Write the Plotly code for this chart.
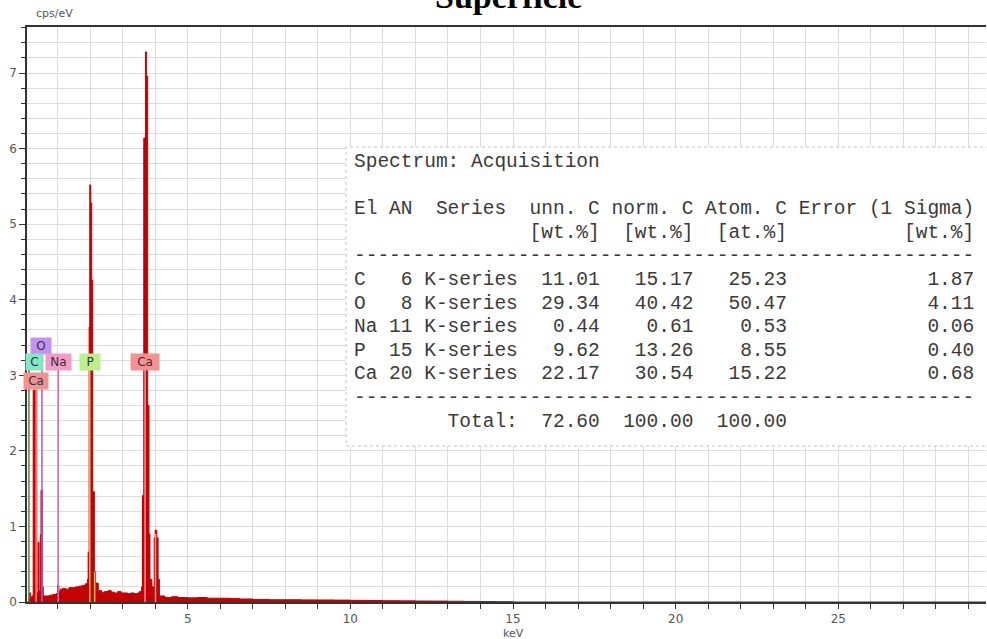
import plotly.graph_objects as go

# ---- EDS spectrum (energy in keV, intensity in cps/eV), step-wise channels ----
energy_kev = [
    0.06, 0.11, 0.13, 0.17, 0.21, 0.25, 0.36, 0.40, 0.43, 0.47, 0.49, 0.53,
    0.56, 0.65, 0.75, 0.85, 0.95, 1.00, 1.04, 1.08, 1.15, 1.25, 1.35, 1.45,
    1.55, 1.65, 1.75, 1.85, 1.92, 1.94, 1.97, 1.99, 2.02, 2.05, 2.08, 2.13,
    2.17, 2.25, 2.35, 2.45, 2.55, 2.65, 2.75, 2.85, 2.95, 3.05, 3.15, 3.25,
    3.35, 3.45, 3.52, 3.58, 3.61, 3.65, 3.70, 3.73, 3.77, 3.81, 3.84, 3.90,
    3.97, 4.00, 4.05, 4.09, 4.13, 4.30, 4.50, 4.70, 5.00, 5.30, 5.60, 6.00,
    6.30, 6.60, 7.00, 7.50, 8.00, 8.50, 9.00, 9.50, 10.00, 10.50, 11.00,
    11.50, 12.00, 12.50, 13.00, 13.50, 14.00, 14.50, 15.00, 29.60,
]
cps_per_ev = [
    0.00, 0.05, 0.12, 0.06, 0.08, 2.80, 0.12, 0.79, 0.15, 0.89, 1.48, 0.20,
    0.08, 0.08, 0.09, 0.10, 0.11, 0.22, 0.14, 0.17, 0.18, 0.17, 0.19, 0.19,
    0.20, 0.21, 0.22, 0.24, 0.30, 0.66, 3.64, 5.52, 5.28, 4.26, 1.46, 0.40,
    0.25, 0.15, 0.13, 0.14, 0.15, 0.13, 0.12, 0.14, 0.12, 0.12, 0.11, 0.12,
    0.11, 0.12, 0.14, 0.20, 1.41, 6.14, 7.28, 6.96, 2.60, 0.90, 0.30, 0.20,
    0.85, 0.95, 0.85, 0.30, 0.08, 0.06, 0.07, 0.06, 0.055, 0.06, 0.05, 0.05,
    0.045, 0.04, 0.035, 0.03, 0.03, 0.028, 0.027, 0.025, 0.022, 0.02, 0.017,
    0.015, 0.013, 0.012, 0.010, 0.008, 0.006, 0.004, 0.00, 0.00,
]

# ---- element marker lines: energy, top of line, colour ----
marker_energy = [0.12, 0.34, 0.52, 1.02, 1.99, 2.14, 3.69, 4.01]
marker_top = [3.07, 2.82, 3.28, 3.07, 3.07, 0.40, 3.07, 0.90]
marker_color = ["#3f8f3a", "#f08a8a", "#a45ad6", "#d070b4",
                "#c8d23c", "#f0b060", "#f39a9a", "#f39a9a"]

# ---- element label boxes ----
label_text = ["O", "C", "Na", "P", "Ca", "Ca"]
label_energy = [0.505, 0.30, 1.04, 2.00, 3.70, 0.33]
label_y = [3.39, 3.17, 3.17, 3.17, 3.17, 2.92]
label_bg = ["#c493f2", "#82e8c4", "#f39cca", "#bcf08c", "#f39290", "#f39290"]
label_w = [18, 15, 23, 18, 26, 22]

# ---- quantification table ----
table_elem = ["C", "O", "Na", "P", "Ca"]
table_an = [6, 8, 11, 15, 20]
table_series = ["K-series"] * 5
table_unn = [11.01, 29.34, 0.44, 9.62, 22.17]
table_norm = [15.17, 40.42, 0.61, 13.26, 30.54]
table_atom = [25.23, 50.47, 0.53, 8.55, 15.22]
table_err = [1.87, 4.11, 0.06, 0.40, 0.68]
table_total = [72.60, 100.00, 100.00]

fig = go.Figure()
fig.add_trace(go.Scatter(
    x=energy_kev, y=cps_per_ev, mode="lines", line_shape="hv",
    line=dict(color="#c40000", width=1), fill="tozeroy",
    fillcolor="#c40000", hoverinfo="skip",
))

shapes = []
for e, top, c in zip(marker_energy, marker_top, marker_color):
    shapes.append(dict(type="line", xref="x", yref="y", x0=e, x1=e, y0=0,
                       y1=top, line=dict(color=c, width=1.5), layer="above"))

# plot area geometry in pixels (for paper-coordinate placement)
W, H = 987, 639
ML, MR, MT, MB = 27, 1, 27, 37
PW, PH = W - ML - MR, H - MT - MB


def px(xp):
    return (xp - ML) / PW


def py(yp):
    return (H - MB - yp) / PH


# table frame
shapes.append(dict(type="rect", xref="paper", yref="paper",
                   x0=px(346), x1=px(992), y0=py(446), y1=py(147),
                   fillcolor="white", line=dict(color="#c4c4c4", width=1, dash="dot"),
                   layer="above"))

annotations = []
for t, e, yv, bg, w in zip(label_text, label_energy, label_y, label_bg, label_w):
    annotations.append(dict(x=e, y=yv, xref="x", yref="y", text=t, showarrow=False,
                            bgcolor=bg, width=w, height=14, borderpad=1,
                            font=dict(family="DejaVu Sans", size=12, color="#333")))

lines = ["Spectrum: Acquisition", "",
         "El AN  Series  unn. C norm. C Atom. C Error (1 Sigma)",
         " " * 15 + "[wt.%]  [wt.%]  [at.%]" + " " * 10 + "[wt.%]",
         "-" * 53]
for el, an, se, u, n, a, er in zip(table_elem, table_an, table_series,
                                  table_unn, table_norm, table_atom, table_err):
    lines.append(f"{el:<2} {an:>2} {se:<8} {u:>6.2f} {n:>7.2f} {a:>7.2f} {er:>15.2f}")
lines.append("-" * 53)
lines.append(f"{'Total:':>14} {table_total[0]:>6.2f} {table_total[1]:>7.2f} {table_total[2]:>7.2f}")

for i, ln in enumerate(lines):
    if not ln:
        continue
    annotations.append(dict(x=px(352), y=py(162 + 23.6 * i), xref="paper", yref="paper",
                            xanchor="left", yanchor="middle", showarrow=False,
                            text=ln.replace(" ", "\u00a0"),
                            font=dict(family="Liberation Mono", size=19.5, color="#3a3a3a")))

# axis captions and title
annotations.append(dict(x=px(34), y=py(13), xref="paper", yref="paper", text="cps/eV",
                        xanchor="left", yanchor="middle", showarrow=False,
                        font=dict(family="DejaVu Sans", size=11, color="#555")))
annotations.append(dict(x=15, y=py(633), xref="x", yref="paper", text="keV",
                        xanchor="center", yanchor="middle", showarrow=False,
                        font=dict(family="DejaVu Sans", size=11, color="#555")))
annotations.append(dict(x=px(508), y=py(17), xref="paper", yref="paper", text="<b>Superficie</b>",
                        xanchor="center", yanchor="bottom", showarrow=False,
                        font=dict(family="Liberation Serif", size=34, color="#000")))

grid = "#dcdcdc"
fig.update_layout(
    width=W, height=H, margin=dict(l=ML, r=MR, t=MT, b=MB),
    paper_bgcolor="white", plot_bgcolor="white", showlegend=False,
    shapes=shapes, annotations=annotations,
    xaxis=dict(range=[0.06, 29.54], tick0=0, dtick=5, ticks="outside", ticklen=5,
               tickcolor="#333", showgrid=True, gridcolor=grid, zeroline=False,
               showline=True, linecolor="#333", linewidth=1.5, mirror=True,
               tickfont=dict(family="DejaVu Sans", size=12, color="#555"),
               minor=dict(tick0=0, dtick=1, ticks="outside", ticklen=5, tickcolor="#333",
                          showgrid=True, gridcolor=grid)),
    yaxis=dict(range=[0, 7.61], tick0=0, dtick=1, ticks="outside", ticklen=6,
               tickcolor="#333", showgrid=True, gridcolor=grid, zeroline=False,
               showline=True, linecolor="#333", linewidth=1.5,
               tickfont=dict(family="DejaVu Sans", size=12, color="#555"),
               minor=dict(tick0=0, dtick=0.2, ticks="outside", ticklen=4, tickcolor="#333",
                          showgrid=True, gridcolor=grid)),
)

fig.write_html("out.html")
